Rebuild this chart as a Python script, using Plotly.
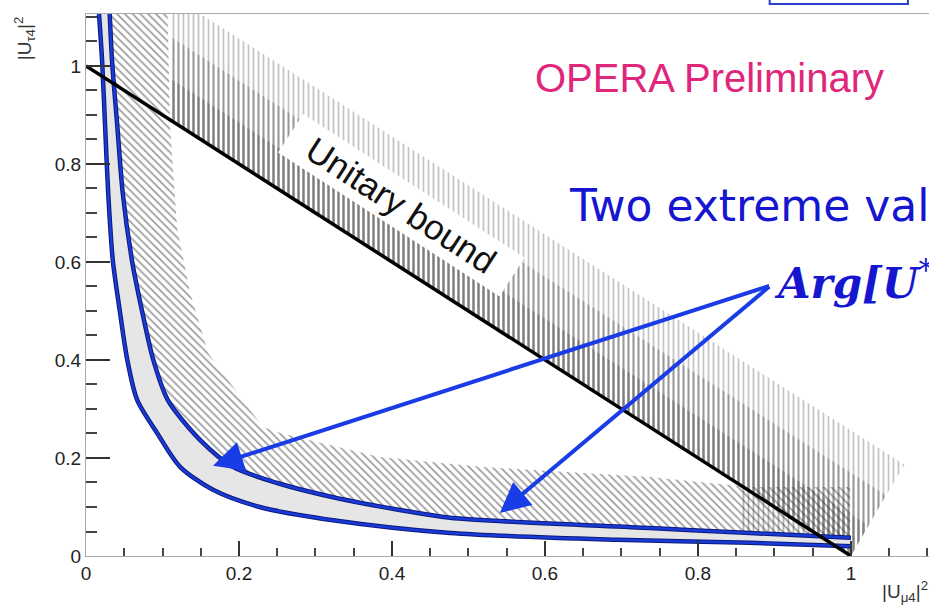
import plotly.graph_objects as go

# ---------------- data ----------------
# unitary bound |U_mu4|^2 + |U_tau4|^2 = 1
unit_x = [0.0, 1.0]
unit_y = [1.0, 0.0]

# inner (lower-left) blue contour
inner_x = [0.017, 0.021, 0.025, 0.029, 0.035, 0.044, 0.054, 0.067, 0.093, 0.123,
           0.166, 0.227, 0.323, 0.476, 0.694, 0.868, 1.000]
inner_y = [1.106, 1.012, 0.876, 0.741, 0.604, 0.502, 0.400, 0.318, 0.251, 0.182,
           0.135, 0.100, 0.073, 0.047, 0.033, 0.027, 0.020]

# outer blue contour
outer_x = [0.031, 0.034, 0.041, 0.048, 0.060, 0.073, 0.088, 0.107, 0.149, 0.192,
           0.250, 0.323, 0.410, 0.476, 0.737, 0.868, 1.000]
outer_y = [1.106, 1.012, 0.876, 0.741, 0.604, 0.502, 0.400, 0.318, 0.237, 0.182,
           0.149, 0.120, 0.094, 0.078, 0.057, 0.047, 0.037]

# outer edge of the diagonally hatched region
diag_edge_x = [0.031, 0.106, 0.110, 0.119, 0.136, 0.160, 0.231, 0.254, 0.306, 0.384,
               0.515, 0.646, 0.737, 0.868, 0.999, 0.999]
diag_edge_y = [1.150, 1.150, 0.876, 0.671, 0.537, 0.413, 0.263, 0.251, 0.231, 0.202,
               0.182, 0.169, 0.161, 0.141, 0.141, 0.037]

# vertically hatched band above the unitary bound (three shades)
band_dark_x = [0.110, 0.110, 1.023, 1.000]
band_dark_y = [0.890, 0.975, 0.062, 0.000]
band_mid_x = [0.110, 0.110, 1.046, 1.023]
band_mid_y = [0.975, 1.060, 0.124, 0.062]
band_light_x = [0.110, 0.110, 1.070, 1.046]
band_light_y = [1.060, 1.146, 0.186, 0.124]
band_low_x = [0.855, 0.855, 0.975]
band_low_y = [0.145, 0.025, 0.025]

# arrows: common tail and two heads
arrow_tail = (0.895, 0.552)
arrow_heads_x = [0.166, 0.541]
arrow_heads_y = [0.184, 0.088]

x_ticks = [0, 0.2, 0.4, 0.6, 0.8, 1]
x_tick_text = ["0", "0.2", "0.4", "0.6", "0.8", "1"]
y_ticks = [0, 0.2, 0.4, 0.6, 0.8, 1]
y_tick_text = ["0", "0.2", "0.4", "0.6", "0.8", "1"]

# ---------------- figure ----------------
fig = go.Figure()

def hatch(xs, ys, shape, color, size, solidity):
    fig.add_trace(go.Scatter(
        x=xs + xs[:1], y=ys + ys[:1], mode="lines", fill="toself",
        line=dict(width=0, color="rgba(0,0,0,0)"),
        fillcolor="rgba(0,0,0,0)",
        fillpattern=dict(shape=shape, fgcolor=color, bgcolor="rgba(0,0,0,0)",
                         size=size, solidity=solidity),
        hoverinfo="skip", showlegend=False))

hatch(band_light_x, band_light_y, "|", "#8a8a8a", 5, 0.36)
hatch(band_mid_x, band_mid_y, "|", "#303030", 5, 0.42)
hatch(band_dark_x, band_dark_y, "|", "#000000", 5, 0.5)
hatch(band_low_x, band_low_y, "|", "#666666", 5, 0.36)

# diagonal hatch region outside the outer contour
d_x = diag_edge_x + outer_x[::-1]
d_y = diag_edge_y + outer_y[::-1]
hatch(d_x, d_y, "\\", "#3a3a3a", 5.5, 0.3)

# light grey band between the two contours
fig.add_trace(go.Scatter(
    x=inner_x + outer_x[::-1], y=inner_y + outer_y[::-1], mode="lines",
    fill="toself", fillcolor="#e6e6e6", line=dict(width=0),
    hoverinfo="skip", showlegend=False))

for cx, cy in ((inner_x, inner_y), (outer_x, outer_y)):
    fig.add_trace(go.Scatter(x=cx, y=cy, mode="lines",
                             line=dict(color="#0b1a7a", width=4.5, shape="spline", smoothing=0.8),
                             hoverinfo="skip", showlegend=False))
    fig.add_trace(go.Scatter(x=cx, y=cy, mode="lines",
                             line=dict(color="#1a3ad8", width=2.5, shape="spline", smoothing=0.8),
                             hoverinfo="skip", showlegend=False))

fig.add_trace(go.Scatter(x=unit_x, y=unit_y, mode="lines",
                         line=dict(color="black", width=3.5),
                         hoverinfo="skip", showlegend=False))

annotations = [
    dict(x=0.413, y=0.716, xref="x", yref="y",
         text="&nbsp;&nbsp;Unitary bound&nbsp;&nbsp;", showarrow=False,
         textangle=33, bgcolor="white", borderpad=3,
         font=dict(family="Liberation Sans", size=35, color="#111")),
    dict(x=0.584, y=0.976, xref="x", yref="y", text="OPERA Preliminary", showarrow=False,
         xanchor="left", font=dict(family="Liberation Sans", size=40, color="#e0267a")),
    dict(x=0.629, y=0.716, xref="x", yref="y", text="Two extreme values of", showarrow=False,
         xanchor="left", font=dict(family="DejaVu Sans", size=44, color="#1616d0")),
    dict(x=0.897, y=0.557, xref="x", yref="y",
         text="<b><i>Arg[U</i></b><sup>*</sup><sub>μ4</sub><b><i>U</i></b><sub>τ4</sub><b>]</b>",
         showarrow=False, xanchor="left",
         font=dict(family="DejaVu Serif", size=42, color="#1616d0")),
    dict(x=0.971, y=-0.066, xref="paper", yref="paper", xanchor="center", yanchor="middle",
         text="|U<sub>μ4</sub>|<sup>2</sup>", showarrow=False,
         font=dict(family="Liberation Sans", size=19, color="#333")),
    dict(x=-0.073, y=0.956, xref="paper", yref="paper", xanchor="center", yanchor="middle",
         textangle=-90, text="|U<sub>τ4</sub>|<sup>2</sup>", showarrow=False,
         font=dict(family="Liberation Sans", size=19, color="#333")),
]
for hx, hy in zip(arrow_heads_x, arrow_heads_y):
    annotations.append(dict(x=hx, y=hy, xref="x", yref="y", ax=arrow_tail[0], ay=arrow_tail[1],
                            axref="x", ayref="y", text="", showarrow=True,
                            arrowhead=2, arrowsize=1.5, arrowwidth=4, arrowcolor="#1a3ce6"))

fig.update_layout(
    width=929, height=609,
    margin=dict(l=86, r=0, t=14, b=53),
    paper_bgcolor="white", plot_bgcolor="white",
    annotations=annotations,
    shapes=[dict(type="rect", xref="paper", yref="paper", x0=0.811, x1=0.975,
                 y0=1.0185, y1=1.12, line=dict(color="#2a3fd0", width=2))],
    xaxis=dict(range=[0, 1.102], tickvals=x_ticks, ticktext=x_tick_text,
               ticks="inside", ticklen=15, tickwidth=1.5, tickcolor="#333",
               minor=dict(dtick=0.05, ticks="inside", ticklen=8, tickcolor="#444", tickwidth=1.5),
               showline=True, linecolor="#aaa", linewidth=1, mirror=True,
               showgrid=False, zeroline=False,
               tickfont=dict(family="Liberation Sans", size=19, color="#222")),
    yaxis=dict(range=[0, 1.106], tickvals=y_ticks, ticktext=y_tick_text,
               ticks="inside", ticklen=24, tickwidth=1.5, tickcolor="#333",
               minor=dict(dtick=0.05, ticks="inside", ticklen=11, tickcolor="#444", tickwidth=1.5),
               showline=True, linecolor="#aaa", linewidth=1,
               showgrid=False, zeroline=False,
               tickfont=dict(family="Liberation Sans", size=19, color="#222")),
)

fig.write_html("out.html")
